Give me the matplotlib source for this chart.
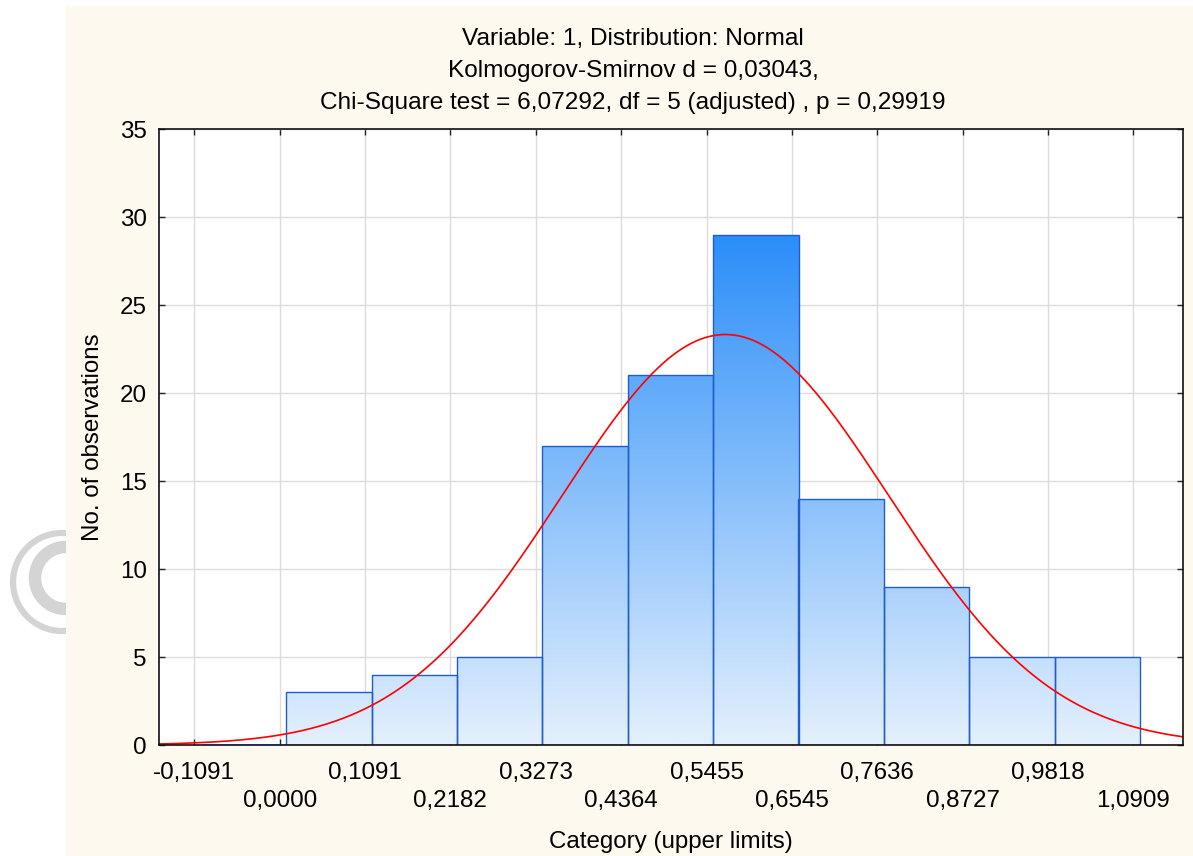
import numpy as np
import matplotlib
matplotlib.use("Agg")
import matplotlib.pyplot as plt
from matplotlib.colors import LinearSegmentedColormap
from matplotlib.patches import Rectangle, Arc

plt.rcParams['font.family'] = ['Liberation Sans', 'DejaVu Sans']

# ---- data ----
upper_limits = [-0.1091, 0.0000, 0.1091, 0.2182, 0.3273, 0.4364, 0.5455,
                0.6545, 0.7636, 0.8727, 0.9818, 1.0909]
tick_labels = ['-0,1091', '0,0000', '0,1091', '0,2182', '0,3273', '0,4364',
               '0,5455', '0,6545', '0,7636', '0,8727', '0,9818', '1,0909']
counts = [0, 3, 4, 5, 17, 21, 29, 14, 9, 5, 5]   # bins ending at upper_limits[1:]
fit_mean = 0.5696
fit_sd = 0.209
title_lines = ["Variable: 1, Distribution: Normal",
               "Kolmogorov-Smirnov d = 0,03043,",
               "Chi-Square test = 6,07292, df = 5 (adjusted) , p = 0,29919"]
x_label = "Category (upper limits)"
y_label = "No. of observations"
y_ticks = [0, 5, 10, 15, 20, 25, 30, 35]

# ---- figure ----
W, H = 1193, 856
fig = plt.figure(figsize=(W / 100, H / 100), dpi=100)
fig.patch.set_facecolor('white')

# watermark (copyright-like circle) partly hidden by the beige panel
wm_color = '#d4d4d4'
cx, cy = 62 / W, 1 - 582 / H
fig.patches.append(Arc((cx, cy), 98 / W, 98 / H, transform=fig.transFigure,
                       color=wm_color, lw=4.5, zorder=-3))
fig.patches.append(Arc((66 / W, 1 - 578 / H), 62 / W, 62 / H, theta1=60, theta2=300,
                       transform=fig.transFigure, color=wm_color, lw=9, zorder=-3))
fig.patches.append(Rectangle((66 / W, 0), 1 - 66 / W, 1 - 6 / H,
                             transform=fig.transFigure, facecolor='#fef9ee',
                             edgecolor='none', zorder=-1))

ax = fig.add_axes([159 / W, (H - 745) / H, 1024 / W, 616 / H])
ax.set_facecolor('white')
fs = 17.4

binw = upper_limits[1] - upper_limits[0]
offset = 0.0085
lefts = np.array(upper_limits[:-1]) + offset
ymax_grad = max(counts)
cmap = LinearSegmentedColormap.from_list('g', ['#e4f0fd', '#2b8ef9'])

bars = ax.bar(lefts, counts, width=binw, align='edge', facecolor='none',
              edgecolor='#1f5cd0', linewidth=1.0, zorder=3)
for b, c in zip(bars, counts):
    if c <= 0:
        b.set_edgecolor('#0b2c86')
        b.set_linewidth(1.8)
        b.set_zorder(6)
        continue
    x0 = b.get_x()
    grad = np.linspace(0, c, 200).reshape(-1, 1)
    im = ax.imshow(grad, extent=[x0, x0 + binw, 0, c], origin='lower',
                   cmap=cmap, vmin=0, vmax=ymax_grad, aspect='auto',
                   interpolation='bilinear', zorder=2)
    im.set_clip_path(b)

xmin, xmax = -0.1542, 1.1544
xs = np.linspace(xmin, xmax, 500)
n = sum(counts)
ys = n * binw / (fit_sd * np.sqrt(2 * np.pi)) * np.exp(-0.5 * ((xs - fit_mean) / fit_sd) ** 2)
ax.plot(xs, ys, color='#ff0000', lw=1.2, zorder=4)

ax.set_xlim(xmin, xmax)
ax.set_ylim(0, 35)
ax.set_yticks(y_ticks)
ax.set_yticklabels([str(v) for v in y_ticks], fontsize=fs)

# staggered x tick labels: row 1 on major ticks, row 2 on minor ticks
ax.set_xticks(upper_limits[0::2])
ax.set_xticklabels(tick_labels[0::2], fontsize=fs)
ax.set_xticks(upper_limits[1::2], minor=True)
ax.set_xticklabels(tick_labels[1::2], minor=True, fontsize=fs)

ax.tick_params(which='both', direction='in', length=4, width=1.0, top=True,
               right=True, color='#222222')
ax.tick_params(axis='y', pad=9)
ax.tick_params(axis='x', which='major', pad=12)
ax.tick_params(axis='x', which='minor', pad=32.5)
ax.grid(True, which='both', axis='x', color='#dcdcdc', lw=1.0, zorder=0)
ax.grid(True, which='major', axis='y', color='#dcdcdc', lw=1.0, zorder=0)
ax.set_axisbelow(True)
for s in ax.spines.values():
    s.set_linewidth(1.2)
    s.set_color('#111111')
    s.set_zorder(5)

ax.set_xlabel(x_label, fontsize=fs)
ax.xaxis.set_label_coords(0.5, -0.139)
ax.set_ylabel(y_label, fontsize=fs)
ax.yaxis.set_label_coords(-0.054, 0.5)

title_baselines = [45, 77, 109]
for line, yb in zip(title_lines, title_baselines):
    fig.text(633 / W, 1 - yb / H, line, fontsize=17.6, ha='center', va='baseline')

fig.savefig('out.png', dpi=100)
